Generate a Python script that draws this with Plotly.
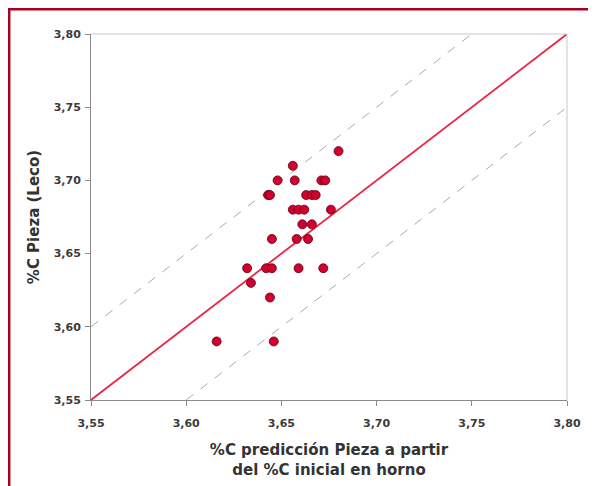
import plotly.graph_objects as go

# Data (x: %C predicción, y: %C Pieza Leco)
pred_x = [3.680, 3.656, 3.648, 3.657, 3.671, 3.673, 3.643, 3.644, 3.663, 3.666, 3.668,
          3.656, 3.659, 3.662, 3.676, 3.661, 3.666, 3.645, 3.658, 3.664,
          3.632, 3.642, 3.645, 3.659, 3.672, 3.634, 3.644, 3.616, 3.646]
leco_y = [3.72, 3.71, 3.70, 3.70, 3.70, 3.70, 3.69, 3.69, 3.69, 3.69, 3.69,
          3.68, 3.68, 3.68, 3.68, 3.67, 3.67, 3.66, 3.66, 3.66,
          3.64, 3.64, 3.64, 3.64, 3.64, 3.63, 3.62, 3.59, 3.59]

axis_min, axis_max = 3.55, 3.80
band = 0.05
tick_vals = [3.55, 3.60, 3.65, 3.70, 3.75, 3.80]
tick_text = ["3,55", "3,60", "3,65", "3,70", "3,75", "3,80"]

FONT = "DejaVu Sans, Verdana, Arial"

fig = go.Figure()

# dashed band lines y = x +/- 0.05
fig.add_trace(go.Scatter(x=[axis_min, axis_max - band], y=[axis_min + band, axis_max],
                         mode="lines", line=dict(color="#aaaaaa", width=1, dash="dash"),
                         hoverinfo="skip", showlegend=False))
fig.add_trace(go.Scatter(x=[axis_min + band, axis_max], y=[axis_min, axis_max - band],
                         mode="lines", line=dict(color="#aaaaaa", width=1, dash="dash"),
                         hoverinfo="skip", showlegend=False))
# identity line
fig.add_trace(go.Scatter(x=[axis_min, axis_max], y=[axis_min, axis_max],
                         mode="lines", line=dict(color="#e8264a", width=1.8),
                         hoverinfo="skip", showlegend=False))
# points
fig.add_trace(go.Scatter(x=pred_x, y=leco_y, mode="markers",
                         marker=dict(color="#d2002e", size=9,
                                     line=dict(color="#5a0010", width=0.8)),
                         showlegend=False))

axis_common = dict(range=[axis_min, axis_max], tickvals=tick_vals, ticktext=tick_text,
                   showgrid=False, zeroline=False, showline=True, linecolor="#8a8a8a",
                   linewidth=1, mirror=False, ticks="outside", ticklen=5, tickcolor="#8a8a8a",
                   tickfont=dict(family=FONT, size=11, color="#3a3a3a", weight="bold"))

fig.update_xaxes(**axis_common, ticklabelstandoff=8,
                 title=dict(text="<b>%C predicción Pieza a partir<br>del %C inicial en horno</b>",
                            font=dict(family=FONT, size=15, color="#333333"),
                            standoff=15))
fig.update_yaxes(**axis_common, ticklabelstandoff=2,
                 title=dict(text="<b>%C Pieza (Leco)</b>",
                            font=dict(family=FONT, size=15, color="#333333"),
                            standoff=10))

# figure sits at an 8px page offset; margins chosen so the plot area lands where the reference has it
W, H = 588, 478
L, R, T, B = 83, 29, 26, 86
pw, ph = W - L - R, H - T - B
def px(xp):
    return (xp - L) / pw
def py(yp):
    return (H - B - yp) / ph

shapes = [
    # light top/right frame of plot area
    dict(type="line", xref="paper", yref="paper", x0=0, x1=1, y0=1, y1=1,
         line=dict(color="#c8c8c8", width=1)),
    dict(type="line", xref="paper", yref="paper", x0=1, x1=1, y0=0, y1=1,
         line=dict(color="#c8c8c8", width=1)),
    # outer dark red border (left and top visible)
    dict(type="line", xref="paper", yref="paper", x0=px(1.2), x1=px(1.2), y0=py(0.5), y1=py(600),
         line=dict(color="#a8001e", width=2.5)),
    dict(type="line", xref="paper", yref="paper", x0=px(0), x1=px(700), y0=py(1.2), y1=py(1.2),
         line=dict(color="#a8001e", width=2.5)),
]

fig.update_layout(width=W, height=H, margin=dict(l=L, r=R, t=T, b=B),
                  plot_bgcolor="white", paper_bgcolor="white",
                  separators=",.", shapes=shapes, showlegend=False)

fig.write_html("out.html")
